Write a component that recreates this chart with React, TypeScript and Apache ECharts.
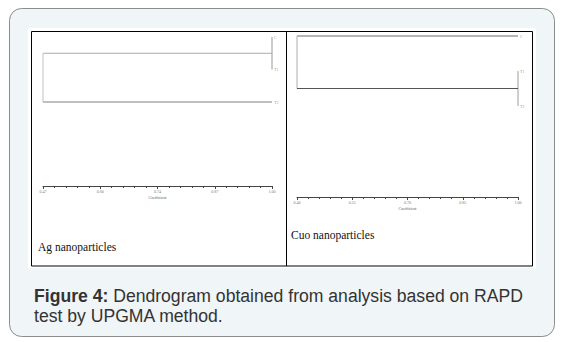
import React, { useEffect, useRef } from "react";
import * as echarts from "echarts";

// Tick labels of the coefficient axes
const agTickLabels = ["0.47", "0.60", "0.74", "0.87", "1.00"];
const cuoTickLabels = ["0.40", "0.55", "0.70", "0.85", "1.00"];

// Leaves (top to bottom)
const agLeaves = ["C", "T1", "T2"];
const cuoLeaves = ["C", "T1", "T2"];

// Merge coefficients
const agMerges = [
  { left: 0, right: 1, coef: 1.0 }, // C + T1
  { left: "C-T1", right: 2, coef: 0.47 }, // (C,T1) + T2
];
const cuoMerges = [
  { left: 1, right: 2, coef: 1.0 }, // T1 + T2
  { left: 0, right: "T1-T2", coef: 0.4 }, // C + (T1,T2)
];

const agMin = 0.47, agMax = 1.0;
const cuoMin = 0.4, cuoMax = 1.0;

const pos = (c: number, mn: number, mx: number) => ((c - mn) / (mx - mn)) * 4;

export default function App() {
  const ref = useRef<HTMLDivElement>(null);
  useEffect(() => {
    document.body.style.margin = "0";
    const chart = echarts.init(ref.current!, null, { renderer: "svg" });

    const ap = (c: number) => pos(c, agMin, agMax);
    const cp = (c: number) => pos(c, cuoMin, cuoMax);

    const agInner = agMerges[0];
    const agRoot = agMerges[1];
    const agInnerMid = (0 + 1) / 2;
    const cuoInner = cuoMerges[0];
    const cuoRoot = cuoMerges[1];
    const cuoInnerMid = (1 + 2) / 2;

    const lineSeries = (xi: number, data: number[][], color: string, width: number) => ({
      type: "line",
      xAxisIndex: xi,
      yAxisIndex: xi,
      data,
      symbol: "none",
      lineStyle: { color, width },
      silent: true,
      z: 3,
    });

    const axisCommon = (labels: string[]) => ({
      type: "value",
      min: 0,
      max: 4,
      interval: 1,
      position: "bottom",
      name: "Coefficient",
      nameLocation: "middle",
      nameGap: 9,
      nameTextStyle: { fontSize: 4, color: "#555", fontFamily: "Liberation Serif" },
      axisLine: { show: true, onZero: false, lineStyle: { color: "#444", width: 1 } },
      axisTick: { show: true, length: 3, lineStyle: { color: "#444" } },
      minorTick: { show: true, splitNumber: 5, length: 2, lineStyle: { color: "#444" } },
      splitLine: { show: false },
      axisLabel: {
        fontSize: 4,
        color: "#777",
        margin: 3,
        fontFamily: "Liberation Serif",
        formatter: (v: number) => labels[Math.round(v)] ?? "",
      },
    });

    const leafLabels = (xi: number, leaves: string[]) => ({
      type: "scatter",
      xAxisIndex: xi,
      yAxisIndex: xi,
      symbolSize: 0,
      clip: false,
      silent: true,
      z: 4,
      data: leaves.map((n, i) => ({ value: [4, i], name: n })),
      label: {
        show: true,
        position: "right",
        distance: 2,
        formatter: (p: any) => p.name,
        fontSize: 4,
        color: "#777",
        fontFamily: "Liberation Serif",
      },
      labelLayout: { hideOverlap: false },
    });

    chart.setOption({
      animation: false,
      grid: [
        { left: 43, right: 289, top: 37, height: 149 },
        { left: 297, right: 43, top: 36, height: 161 },
      ],
      xAxis: [
        { ...axisCommon(agTickLabels), gridIndex: 0 },
        { ...axisCommon(cuoTickLabels), gridIndex: 1 },
      ],
      yAxis: [
        { type: "value", gridIndex: 0, min: 0, max: 4.58, inverse: true, show: false },
        { type: "value", gridIndex: 1, min: 0, max: 4.6, inverse: true, show: false },
      ],
      series: [
        lineSeries(0, [[ap(agInner.coef), 0], [ap(agInner.coef), 1]], "#aaa", 1.2),
        lineSeries(0, [[ap(agInner.coef), agInnerMid], [ap(agRoot.coef), agInnerMid]], "#aaa", 1.2),
        lineSeries(0, [[ap(agRoot.coef), agInnerMid], [ap(agRoot.coef), 2]], "#ccc", 1.2),
        lineSeries(0, [[ap(agRoot.coef), 2], [ap(agInner.coef), 2]], "#aaa", 1.6),
        lineSeries(1, [[cp(cuoInner.coef), 1], [cp(cuoInner.coef), 2]], "#bbb", 1.4),
        lineSeries(1, [[cp(cuoInner.coef), 0], [cp(cuoRoot.coef), 0]], "#b5b5b5", 1.8),
        lineSeries(1, [[cp(cuoRoot.coef), 0], [cp(cuoRoot.coef), cuoInnerMid]], "#bbb", 1.2),
        lineSeries(1, [[cp(cuoRoot.coef), cuoInnerMid], [cp(cuoInner.coef), cuoInnerMid]], "#555", 1.2),
        leafLabels(0, agLeaves),
        leafLabels(1, cuoLeaves),
      ],
      graphic: [
        {
          type: "rect",
          z: -10,
          shape: { x: 9.5, y: 8.5, width: 545, height: 328, r: 12 },
          style: { fill: "#f0f5f8", stroke: "#8c8c8c", lineWidth: 1 },
        },
        {
          type: "rect",
          z: -9,
          shape: { x: 28, y: 28, width: 508, height: 240 },
          style: { fill: "#ffffff" },
        },
        {
          type: "rect",
          z: -8,
          shape: { x: 31.5, y: 31.5, width: 501, height: 234.5 },
          style: { fill: "none", stroke: "#000", lineWidth: 1 },
        },
        {
          type: "line",
          z: -8,
          shape: { x1: 286.5, y1: 31.5, x2: 286.5, y2: 266 },
          style: { stroke: "#000", lineWidth: 1 },
        },
        {
          type: "text",
          x: 38,
          y: 241,
          style: { text: "Ag nanoparticles", fontSize: 11.5, fontFamily: "Liberation Serif", fill: "#111" },
        },
        {
          type: "text",
          x: 291,
          y: 229,
          style: { text: "Cuo nanoparticles", fontSize: 11.5, fontFamily: "Liberation Serif", fill: "#111" },
        },
        {
          type: "text",
          x: 34,
          y: 286,
          style: {
            text: "{b|Figure 4:} Dendrogram obtained from analysis based on RAPD\ntest by UPGMA method.",
            fontSize: 17.6,
            lineHeight: 20,
            fontFamily: "Liberation Sans",
            fill: "#333",
            rich: {
              b: { fontWeight: "bold", fontSize: 17.6, fontFamily: "Liberation Sans", fill: "#333" },
            },
          },
        },
      ],
    });
    return () => chart.dispose();
  }, []);
  return <div ref={ref} style={{ width: 561, height: 342 }} />;
}
